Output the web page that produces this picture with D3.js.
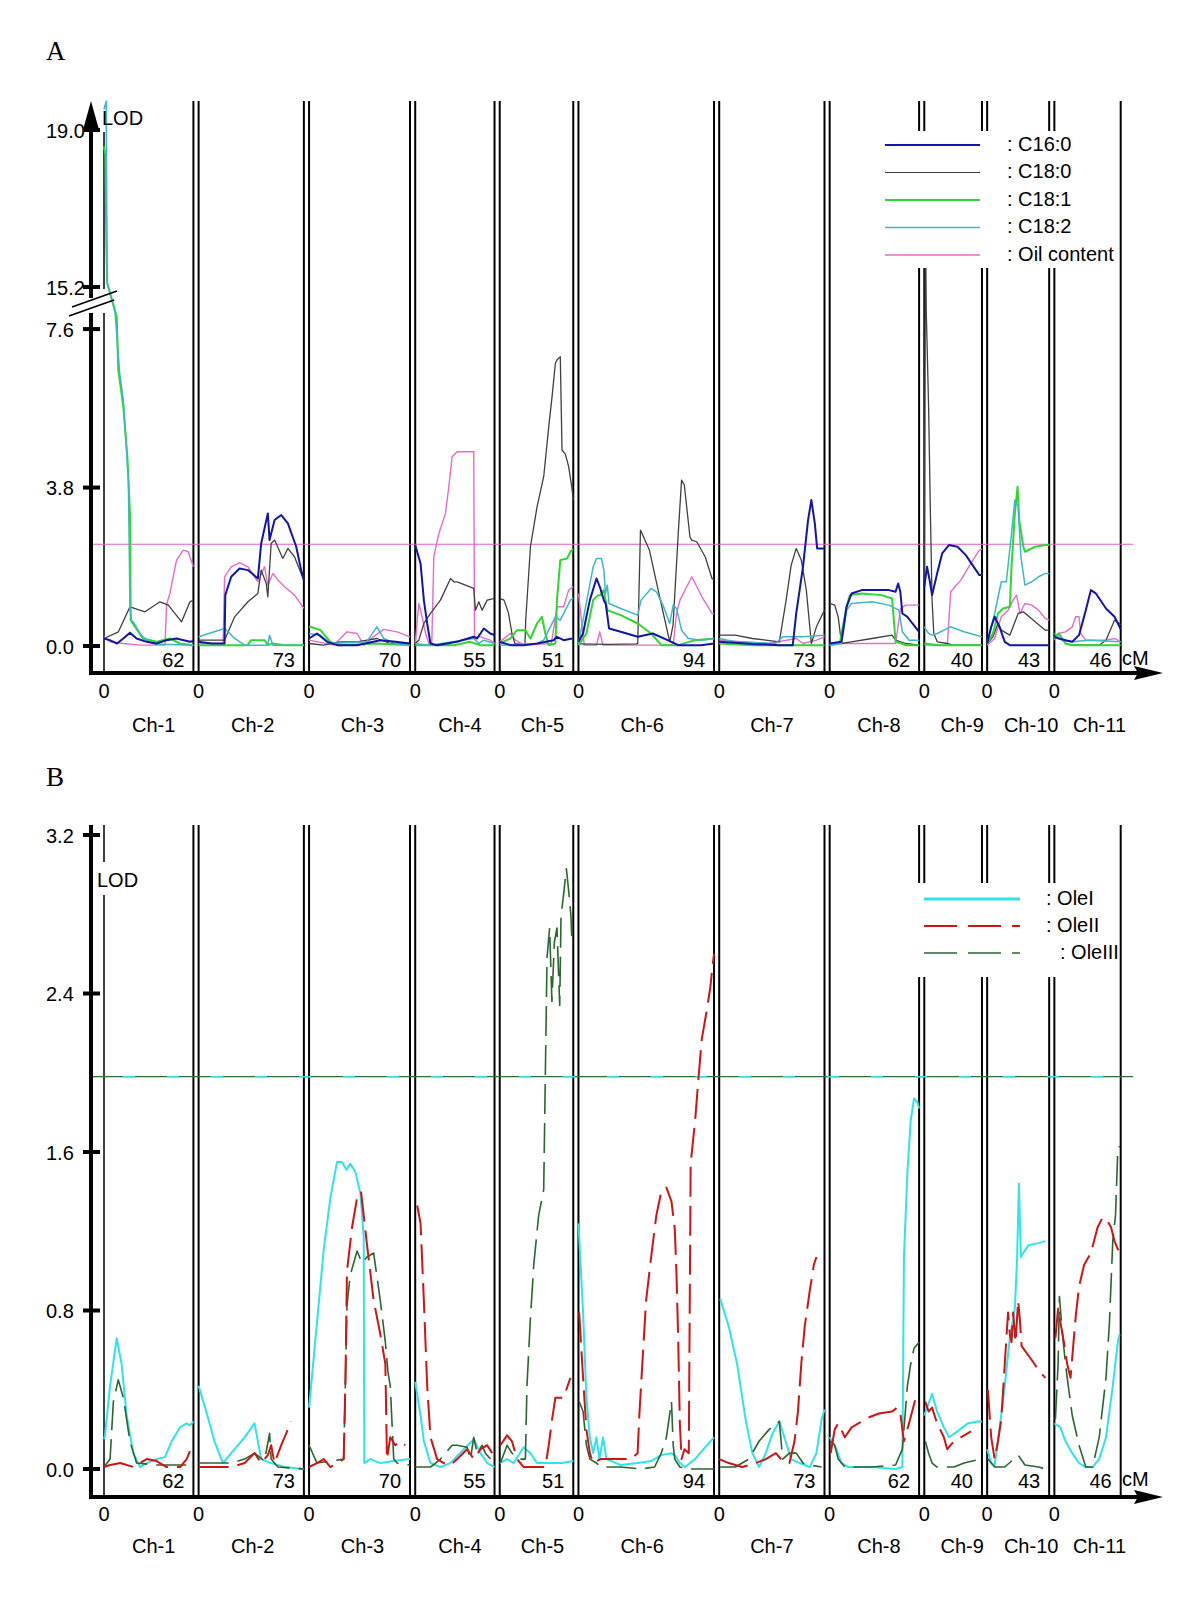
<!DOCTYPE html>
<html><head><meta charset="utf-8">
<script src="https://cdn.jsdelivr.net/npm/d3@7"></script>
<style>body{margin:0;background:#fff} text{font-family:"Liberation Sans",Arial,sans-serif;font-size:20px;fill:#000}</style>
</head><body><svg id="chart" width="1200" height="1605"></svg>
<script>
// ---------------- DATA ----------------
const chrNames = ["Ch-1","Ch-2","Ch-3","Ch-4","Ch-5","Ch-6","Ch-7","Ch-8","Ch-9","Ch-10","Ch-11"];
const chrLengths = [62,73,70,55,51,94,73,62,40,43,46];
const ticksA = [0, 3.8, 7.6, 15.2, 19.0];
const ticksB = [0, 0.8, 1.6, 2.4, 3.2];
const thresholdA = 2.44;
const thresholdB = 1.98;
const legendA = [": C16:0", ": C18:0", ": C18:1", ": C18:2", ": Oil content"];
const legendB = [": OleI", ": OleII", ": OleIII"];

// each series: one list of [cM, LOD] per chromosome
const c16_0 = [
 [[0,0.18],[4,0.14],[9,0.06],[13.4,0.18],[18,0.32],[22.6,0.18],[29.6,0.10],[36.5,0.06],[43.4,0.14],[50.3,0.18],[59.6,0.10],[62,0.12]],
 [[0,0.10],[9,0.06],[18,0.06],[18.5,1.22],[22.6,1.66],[28.4,1.86],[34.2,1.82],[41.1,1.62],[43.4,2.46],[48,3.18],[49.2,2.54],[52.7,3.02],[57.3,3.14],[61.9,2.94],[67.7,2.38],[71.1,1.82],[73,1.58]],
 [[0,0.18],[5.5,0.30],[12.5,0.10],[19.4,0.02],[33.3,0.02],[49.4,0.14],[60,0.10],[70,0.06]],
 [[0,2.42],[3.7,1.98],[6,1.10],[8.3,0.54],[10.6,0.06],[15,0.02],[29,0.10],[40.6,0.22],[42.9,0.18],[47.6,0.42],[52,0.30],[55,0.26]],
 [[0,0.10],[7.4,0.02],[16.6,0.02],[25.9,0.06],[37.4,0.14],[39.7,0.22],[44.3,0.14],[50.1,0.18]],
 [[0,0.10],[3.2,0.30],[5.5,0.70],[7.9,1.10],[12.5,1.62],[14.8,1.42],[17.6,1.10],[19,1.0],[21.2,0.42],[29.3,0.34],[41.1,0.22],[51.6,0.30],[64.5,0.10],[69.2,0.02],[85,0.02],[94,0.06]],
 [[0,0.10],[11,0.08],[23,0.05],[41.7,0.02],[51,0.02],[53.4,0.78],[58.1,1.90],[61.6,3.02],[63.9,3.50],[66.3,2.94],[67.9,2.34],[73,2.34]],
 [[0,0.06],[8.2,0.10],[11.7,0.94],[15.2,1.26],[22.2,1.34],[41,1.34],[45.7,1.30],[47.5,1.50],[49,1.30],[50.4,0.78],[53.9,0.70],[57.4,0.54],[62,0.34]],
 [[0,1.42],[1.9,1.90],[3.7,1.58],[5.4,1.22],[8.9,1.74],[12.4,2.22],[17.1,2.42],[23,2.38],[28.8,2.18],[33.5,1.94],[38.2,1.70],[40,1.70]],
 [[0,0.06],[2.8,0.46],[5.2,0.70],[8.6,0.46],[12.2,0.10],[15.7,0.02],[43,0.02]],
 [[0,0.22],[3,0.18],[7.7,0.14],[12.4,0.10],[17.1,0.26],[21.8,0.86],[25.3,1.34],[28.8,1.26],[35.8,0.90],[41.7,0.70],[45.2,0.46],[46,0.40]]
];
const c18_0 = [
 [[0,0.18],[10,0.34],[18,0.94],[28.4,0.82],[38.8,1.06],[44.6,0.98],[53.8,0.58],[59.6,1.06],[62,1.10]],
 [[0,0.14],[18,0.14],[25,0.70],[34.2,1.06],[41.1,1.26],[43.4,1.82],[46.9,1.50],[48,1.18],[50.3,2.46],[52.7,2.54],[58.4,2.10],[61.9,2.34],[66.5,2.14],[71.1,1.74],[73,1.58]],
 [[0,0.06],[10,0.02],[21.7,0.10],[33.3,0.10],[47,0.18],[56.3,0.06],[70,0.06]],
 [[0,0.06],[2.5,0.14],[6,0.54],[10.6,0.78],[17.5,1.10],[24.5,1.62],[26.8,1.54],[29.1,1.54],[40.6,1.38],[41.8,0.86],[44.1,1.06],[46.4,0.86],[49.9,1.10],[55,1.14]],
 [[0,1.14],[3,1.10],[6,0.80],[8.5,0.30],[10.5,0.06],[17.5,0.02],[18,0.60],[21.3,2.38],[25.9,3.34],[30.5,4.06],[34,5.26],[36.3,5.98],[38.6,6.78],[39.7,6.86],[42,6.94],[43.2,4.70],[45.5,4.60],[47.8,4.30],[50.1,3.78],[51,3.5]],
 [[0,0.05],[20,0.04],[40,0.05],[41.1,0.06],[43,2.78],[49.2,2.30],[56.3,1.18],[63.3,0.10],[65.6,0.50],[69.2,2.70],[71.5,3.98],[73.4,3.86],[77.3,2.62],[78.5,2.54],[82,2.50],[87.9,2.14],[92.6,1.62],[94,1.58]],
 [[0,0.26],[11,0.26],[23,0.18],[41.7,0.10],[46.4,1.10],[49.9,1.94],[53.4,2.34],[56.9,2.06],[60.4,1.34],[63.9,0.06],[67.4,0.46],[73,0.86]],
 [[0,1.02],[3.5,0.98],[5.9,0.70],[8.2,0.06],[15,0.10],[29.3,0.18],[43.3,0.26],[45.7,0.14],[52.7,0.06],[62,0.02]],
 [[0,1.5],[0.8,17.0],[1.4,8.0],[3,5.74],[4.2,3.26],[5.4,1.10],[6.6,0.30],[9,0.10],[16,0.06],[20,0.02],[40,0.02]],
 [[0,0.06],[4,0.22],[7.5,0.54],[9.8,0.38],[15.7,0.26],[21.5,0.78],[25.1,0.82],[33.3,0.58],[40.3,0.38],[43,0.38]],
 [[0,0.22],[3,0.30],[7.7,0.06],[12.4,0.02],[31,0.02],[35.8,0.14],[41.7,0.62],[45.2,0.54],[46,0.5]]
];
const c18_1 = [
 [[0,18.6],[1.0,18.4],[1.6,16.3],[2.2,15.3],[8.8,7.90],[9.9,6.62],[13.4,5.74],[16.2,4.54],[18,3.18],[18.5,0.62],[21.5,0.46],[27,0.18],[36.5,0.10],[45.7,0.18],[52.7,0.06],[62,0.02]],
 [[0,0.02],[34,0.02],[36.5,0.14],[45.7,0.14],[48,0.02],[51.5,0.06],[59.6,0.02],[73,0.02]],
 [[0,0.46],[1,0.46],[7.9,0.38],[14.8,0.10],[21.7,0.02],[47,0.06],[70,0.02]],
 [[0,0.02],[27,0.02],[38,0.10],[45,0.02],[55,0.02]],
 [[0,0.06],[7.4,0.18],[12,0.38],[17.8,0.38],[21.3,0.18],[25.9,0.54],[29.3,0.70],[31.6,0.30],[34,0.02],[38.6,0.06],[39.7,1.10],[42,2.06],[46.7,2.10],[49,2.26],[50.1,2.30],[51,2.32]],
 [[0,0.02],[5.5,0.30],[10.2,1.10],[13.6,1.22],[15.3,1.22],[17.6,1.34],[20,0.86],[29.3,0.74],[41.1,0.54],[50.4,0.30],[57.5,0.02],[69.2,0.02],[80.9,0.14],[94,0.18]],
 [[0,0.06],[23,0.02],[73,0.02]],
 [[0,0.02],[7,0.06],[11.7,0.94],[14,1.22],[22.2,1.26],[36,1.22],[43.3,1.14],[45.7,0.10],[52.7,0.02],[62,0.02]],
 [[0,0.06],[10,0.02],[40,0.02]],
 [[0,0.06],[4,0.30],[7.5,0.78],[11,0.90],[15.7,0.94],[16.9,1.90],[19.2,3.18],[21.1,3.82],[22.2,3.02],[25.1,2.38],[26.2,2.26],[33.3,2.38],[40.3,2.42],[43,2.42]],
 [[0,0.18],[3,0.30],[7.7,0.06],[12.4,0.02],[46,0.02]]
];
const c18_2 = [
 [[0,19.5],[1.5,19.7],[2.2,15.3],[7.6,8.10],[11,6.5],[13.4,5.9],[16.9,3.98],[18,0.94],[19.2,0.58],[20.3,0.58],[25,0.30],[30.7,0.10],[35,0.05],[62,0.02]],
 [[0,0.22],[18,0.42],[25,0.18],[32,0.02],[48,0.02],[49.2,0.26],[51.5,0.02],[73,0.02]],
 [[0,0.30],[7.9,0.26],[14.8,0.06],[40,0.10],[47,0.46],[51.7,0.18],[60,0.06],[70,0.02]],
 [[0,0.06],[10,0.02],[40.6,0.18],[44,0.06],[47.6,0.14],[55,0.06]],
 [[0,0.02],[25.9,0.06],[30.5,0.14],[38.6,0.70],[42,0.62],[49,1.10],[51,1.15]],
 [[0,0.06],[3.2,0.62],[6.7,1.26],[10.2,1.90],[12.5,2.10],[15.9,2.10],[17.6,1.82],[18.8,1.26],[20,1.46],[21.2,1.02],[29.3,0.90],[41.1,0.74],[43.4,1.10],[50.4,1.38],[54,1.30],[58.6,0.98],[63.3,0.54],[65.7,0.98],[68,0.90],[71.5,0.38],[76.2,0.18],[85.6,0.14],[94,0.18]],
 [[0,0.18],[11,0.10],[39,0.06],[44,0.22],[58,0.22],[73,0.26]],
 [[0,0.02],[8.2,0.06],[11.7,0.86],[15.2,1.02],[29.3,1.06],[41,0.98],[48,0.86],[50.4,0.34],[55,0.14],[62,0.14]],
 [[0,0.46],[3,0.30],[5.4,0.26],[8.9,0.30],[18.3,0.46],[27.4,0.34],[40,0.22]],
 [[0,0.06],[5.2,0.78],[9.8,1.54],[13.3,1.54],[16.9,2.70],[19.2,3.50],[21.5,3.34],[23.4,2.14],[26.2,1.46],[30.9,1.54],[35.6,1.66],[40.3,1.74],[43,1.74]],
 [[0,0.30],[5.4,0.14],[12.4,0.10],[24,0.14],[46,0.10]]
];
const oilContent = [
 [[0,0.22],[4,0.10],[13.4,0.06],[25,0.02],[42.3,0.02],[43.4,1.00],[45.7,1.26],[50.3,2.06],[55,2.30],[58.4,2.26],[60.3,2.06],[62,1.9]],
 [[0,0.06],[17,0.06],[18,1.66],[22.6,1.90],[28.4,2.00],[34.2,1.90],[41.1,1.54],[45.7,1.90],[48,1.46],[51.5,1.74],[55,1.58],[59.6,1.42],[66.5,1.22],[73,0.90]],
 [[0,0.14],[17,0.02],[26.3,0.34],[33.3,0.30],[37.9,0.02],[44.6,0.22],[51.7,0.40],[61,0.34],[70,0.22]],
 [[0,0.06],[2.5,1.02],[4.8,0.70],[7.2,0.30],[9.5,0.06],[11.5,0.06],[12.9,2.14],[16.4,2.70],[21,3.18],[23.3,3.82],[25.6,4.54],[29.1,4.66],[40.6,4.66],[41.1,0.22],[45.3,0.22],[52,0.14],[55,0.06]],
 [[0,0.10],[7.4,0.30],[10.9,0.14],[16.6,0.02],[35.8,0.06],[39.7,0.94],[44.3,0.94],[47.8,1.34],[51,1.42]],
 [[0,1.26],[4,0.02],[12.5,0.02],[14.8,0.34],[17,0.02],[63,0.02],[65.8,0.06],[68,0.78],[70.4,1.10],[78.6,1.66],[85.6,1.18],[92.6,0.78],[94,0.78]],
 [[0,0.14],[34,0.06],[53.4,0.18],[58,0.06],[67.4,0.14],[73,0.22]],
 [[0,0.06],[45.7,0.06],[49.2,0.90],[52.7,0.98],[62,0.98]],
 [[0,0.02],[16,0.02],[18.3,1.30],[25.3,1.58],[32.3,1.98],[38.2,2.30],[40,2.32]],
 [[0,0.02],[5.2,0.18],[9.8,0.70],[14.5,0.86],[18,1.10],[20.4,1.22],[22.7,0.78],[26.2,1.02],[30.9,0.98],[35.6,0.86],[40.3,0.66],[43,0.62]],
 [[0,0.14],[3,0.30],[7.7,0.34],[12.4,0.46],[14.8,0.70],[17.1,0.70],[18.3,0.30],[21.8,0.14],[35.8,0.14],[42,0.18],[46,0.10]]
];
const oleI = [
 [[0,0.15],[0.7,0.17],[4.2,0.42],[8.8,0.66],[12.2,0.53],[15.7,0.27],[20.3,0.08],[25,0.01],[29.6,0.03],[36.5,0.05],[42.3,0.06],[46.9,0.14],[52.7,0.21],[57.3,0.23],[59.6,0.22],[62,0.24]],
 [[0,0.42],[5.3,0.29],[11,0.14],[16.9,0.03],[22.6,0.08],[31.9,0.16],[38.8,0.23],[41.1,0.14],[43.4,0.05],[50.3,0.03],[59.6,0.01],[73,0.0]],
 [[0,0.31],[5.5,0.74],[10.2,1.11],[14.8,1.37],[19.4,1.55],[22.9,1.55],[25.9,1.51],[28.6,1.54],[32.1,1.50],[35.6,1.39],[37.9,1.17],[38.3,0.03],[42.5,0.05],[49.4,0.03],[58.7,0.04],[70,0.05]],
 [[0,0.44],[3.7,0.27],[6,0.14],[10.6,0.03],[17.5,0.01],[24.5,0.03],[33.7,0.10],[40.6,0.15],[45.3,0.08],[49.9,0.03],[55,0.01]],
 [[0,0.03],[5.1,0.05],[9.7,0.03],[16.6,0.11],[21.2,0.08],[25.9,0.03],[34,0.03],[43,0.03],[51,0.04]],
 [[0,1.24],[3.2,0.79],[5.5,0.36],[7.9,0.16],[10.2,0.08],[12.5,0.16],[14.5,0.05],[17.1,0.16],[19.4,0.05],[29.3,0.02],[41,0.03],[50.4,0.04],[57.4,0.07],[64.5,0.08],[66.8,0.07],[70.3,0.03],[73.8,0.01],[80.9,0.05],[87.9,0.11],[94,0.16]],
 [[0.7,0.86],[6.6,0.72],[12.4,0.53],[18.3,0.25],[23,0.08],[27.6,0.01],[32.3,0.08],[37,0.18],[41.7,0.24],[45.2,0.16],[49.9,0.05],[55.7,0.03],[62.8,0.01],[67.4,0.08],[71,0.25],[73,0.30]],
 [[0,0.16],[3.5,0.12],[8.2,0.03],[12.9,0.01],[29.3,0.01],[45.7,0.0],[50.4,0.01],[51.5,1.07],[53.9,1.50],[56.2,1.76],[58.5,1.87],[60.9,1.85],[62,1.82]],
 [[0,0.27],[5.4,0.38],[8.9,0.29],[13.6,0.21],[17.1,0.16],[23,0.19],[30,0.23],[37,0.24],[40,0.24]],
 [[0,0.10],[2.8,0.03],[5.2,0.02],[8.7,0.21],[12.2,0.42],[15.7,0.66],[19.2,0.81],[20.8,1.07],[22,1.44],[23.4,1.07],[25.1,1.09],[28.6,1.13],[35.6,1.14],[40.3,1.15]],
 [[0,0.23],[4.2,0.21],[7.7,0.14],[12.4,0.08],[17.1,0.03],[21.8,0.01],[26.5,0.01],[31.1,0.05],[35.8,0.16],[40.5,0.42],[44,0.64],[45.2,0.68]]
];
const oleII = [
 [[0,0.01],[4.2,0.02],[11.3,0.03],[20.3,0.01],[29.6,0.05],[36.5,0.04],[43.4,0.01],[52.7,0.01],[57.3,0.05],[59.6,0.09]],
 [[0,0.01],[22.6,0.01],[31.9,0.03],[38.8,0.08],[43.4,0.03],[48,0.07],[50.3,0.12],[52.6,0.03],[57.3,0.12],[64.2,0.24]],
 [[0,0.01],[5.5,0.03],[10.2,0.05],[14.8,0.01],[24,0.05],[25.2,0.44],[26.3,1.00],[29.8,1.22],[33.3,1.37],[36,1.40],[37.9,1.28],[40.2,1.13],[44.8,0.85],[49.4,0.68],[52.9,0.53],[54,0.05],[56.3,0.16],[59.8,0.12],[63.3,0.14],[66.7,0.12]],
 [[1.4,1.33],[3.7,1.24],[6,0.85],[8.3,0.42],[10.6,0.16],[15.2,0.05],[19.9,0.03],[24.5,0.02],[29.1,0.05],[36,0.10],[40.6,0.05],[45.3,0.10],[49.9,0.12],[53.4,0.08]],
 [[0.5,0.12],[5.1,0.17],[8.5,0.14],[12,0.05],[16.6,0.01],[31.6,0.01],[34,0.12],[36.3,0.25],[38.6,0.36],[44.3,0.36],[49,0.46]],
 [[0.5,0.79],[3.2,0.46],[5.5,0.20],[7.9,0.08],[10.2,0.03],[15.3,0.05],[36.4,0.05],[41,0.08],[42.2,0.27],[44.6,0.57],[46.9,0.85],[50.4,1.07],[54,1.28],[57.4,1.40],[61,1.42],[64.5,1.35],[66.8,1.21],[68,0.98],[69.2,0.64],[70.3,0.23],[71.5,0.05],[73.5,0.10],[76.5,0.08],[77.8,1.54],[80.9,1.76],[83.2,1.97],[85.5,2.17],[89.1,2.32],[91.4,2.43],[93,2.54],[94,2.6]],
 [[0,0.05],[6.6,0.03],[15.9,0.01],[25.3,0.03],[32.3,0.05],[39.3,0.08],[44,0.04],[48.7,0.03],[52.2,0.14],[54.6,0.29],[56.9,0.53],[59.3,0.72],[62.8,0.90],[65.6,1.03],[67.4,1.07]],
 [[0.7,0.08],[3.5,0.20],[5.9,0.23],[10.5,0.16],[15.2,0.21],[19.9,0.23],[26.9,0.26],[34,0.28],[43.3,0.29],[46.8,0.31],[49.2,0.27],[51.5,0.14],[55,0.23],[59.7,0.36],[62,0.38]],
 [[0.7,0.34],[3,0.29],[5.4,0.31],[8.9,0.23],[13.6,0.16],[15.9,0.10],[20.6,0.14],[25.3,0.16],[30,0.18],[32.3,0.19]],
 [[0.5,0.40],[2.8,0.16],[5.2,0.05],[7.5,0.14],[9.8,0.25],[12.2,0.53],[14.5,0.79],[15.7,0.68],[16.9,0.64],[18,0.79],[19.7,0.64],[21.5,0.85],[22.7,0.75],[23.9,0.62],[30.9,0.55],[35.6,0.50],[40.3,0.46]],
 [[0.7,0.66],[2.6,0.81],[4.2,0.74],[6.6,0.64],[8.9,0.53],[11.2,0.46],[14.8,0.77],[17.1,0.92],[20.6,1.03],[25.3,1.09],[30,1.22],[33.5,1.27],[37,1.25],[39.3,1.22],[41.7,1.15],[44,1.11],[45.5,1.10]]
];
const oleIII = [
 [[0,0.01],[4.2,0.05],[6.5,0.34],[9.9,0.45],[13.4,0.36],[18,0.14],[22.6,0.03],[36.5,0.02],[62,0.02]],
 [[0,0.03],[22.6,0.03],[31.9,0.05],[38.8,0.08],[45.7,0.04],[49.2,0.18],[50.3,0.05],[55,0.01],[73,0.0]],
 [[0,0.12],[5.5,0.03],[14.8,0.04],[24,0.05],[25.2,0.44],[26.3,0.83],[28.6,0.98],[33.3,1.10],[36.7,1.04],[40.2,1.07],[44.8,1.09],[49.4,0.85],[52.9,0.64],[54.7,0.49],[56.3,0.42],[58.7,0.05],[61,0.03],[70,0.02]],
 [[0,0.01],[10.6,0.01],[17.5,0.05],[25.6,0.12],[29.1,0.12],[36,0.11],[38.3,0.05],[40.6,0.16],[42.9,0.08],[46.4,0.12],[48.7,0.08],[52.2,0.05]],
 [[0.5,0.03],[5.1,0.12],[8.5,0.08],[13.2,0.05],[17.8,0.05],[18.9,0.42],[21.2,0.75],[23.6,1.03],[27,1.28],[30.5,1.41],[31.6,1.97],[32.8,2.58],[34.6,2.73],[36.2,2.36],[37.9,2.66],[39.7,2.73],[41.6,2.34],[42.5,2.79],[44.3,2.90],[46.2,3.03],[47.8,2.92],[49.4,2.79],[50.1,2.66]],
 [[0.5,0.34],[3.2,0.29],[5.5,0.12],[7.9,0.05],[12.5,0.03],[15.3,0.01],[29.3,0.01],[43.4,0.0],[52.8,0.01],[57.4,0.08],[61,0.16],[64.5,0.34],[65.7,0.12],[66.8,0.05],[70.3,0.01],[76.2,0.0],[94,0.0]],
 [[0.7,0.01],[11.2,0.01],[20.6,0.05],[27.6,0.14],[34.7,0.20],[41.7,0.24],[44,0.05],[48.7,0.08],[53.4,0.08],[58.1,0.03],[62.8,0.02],[71,0.01]],
 [[0.7,0.14],[3.5,0.12],[5.9,0.05],[10.5,0.01],[29.3,0.01],[45.7,0.02],[50.4,0.10],[53.9,0.42],[56.2,0.53],[58.5,0.61],[62,0.64]],
 [[0.7,0.14],[3,0.08],[5.4,0.03],[8.9,0.01],[20.6,0.01],[27.6,0.03],[39.3,0.05]],
 [[0.5,0.05],[5.2,0.01],[12.2,0.01],[21.5,0.07],[26.2,0.02],[35.6,0.01],[40.3,0.0]],
 [[0.7,0.25],[2.6,0.53],[3.5,0.87],[5.4,0.70],[7.7,0.53],[10,0.40],[12.4,0.27],[17.1,0.12],[21.8,0.01],[26.5,0.01],[31.1,0.16],[35.8,0.46],[38.2,0.74],[40.5,1.15],[42.4,1.28],[44,1.61],[45.2,1.63]]
];

// ---------------- LAYOUT ----------------
const svg = d3.select("#chart");
svg.append("rect").attr("width",1200).attr("height",1605).attr("fill","#fff");

const gapCM = 3.6;
const offsets = [];
{ let acc = 0; chrLengths.forEach(L => { offsets.push(acc); acc += L + gapCM; }); }
const totalCM = d3.sum(chrLengths) + gapCM * (chrLengths.length - 1);
const x = d3.scaleLinear().domain([0, totalCM]).range([104, 1120.7]);
const xPos = (c, cm) => x(offsets[c] + cm);
const labelDx = [5,1.5,3,5,6,-4,0,4.6,9,13,12];

const yA = d3.scaleLinear().domain([0, 8.0, 15.2, 19.0]).range([646, 312.4, 287, 130]);
const yB = d3.scaleLinear().domain([0, 3.2]).range([1469, 835]);

function vline(g, xx, y1, y2, w) {
  g.append("line").attr("x1",xx).attr("x2",xx).attr("y1",y1).attr("y2",y2)
   .attr("stroke","#000").attr("stroke-width",w);
}

function drawPanel(o) {
  const g = svg.append("g");
  // chromosome boundary lines
  chrLengths.forEach((L,i) => {
    if (i > 0) vline(g, xPos(i,0), o.lineTop, o.axisY, 2);
    vline(g, xPos(i,L), o.lineTop, o.axisY, 2);
  });
  o.ch1Segs.forEach(s => vline(g, xPos(0,0), s[0], s[1], 1.5));

  // threshold
  o.drawThreshold(g);

  // curves
  o.series.forEach(s => {
    s.data.forEach((pts, c) => {
      const line = d3.line().x(d => xPos(c, d[0])).y(d => o.y(d[1]));
      g.append("path").attr("d", line(pts)).attr("fill","none")
        .attr("stroke", s.color).attr("stroke-width", s.width)
        .attr("stroke-linejoin","round")
        .attr("stroke-dasharray", s.dash || null);
    });
  });

  // legend
  g.append("rect").attr("x",o.legBox[0]).attr("y",o.legBox[1]).attr("width",o.legBox[2]).attr("height",o.legBox[3]).attr("fill","#fff");
  o.legendOrder.forEach((s,i) => {
    const ly = o.legY0 + i*o.legDy;
    g.append("line").attr("x1",o.legX1).attr("x2",o.legX2).attr("y1",ly).attr("y2",ly)
      .attr("stroke",s.color).attr("stroke-width",s.legW).attr("stroke-dasharray",s.legDash||null);
    g.append("text").attr("x",o.legTx[i]).attr("y",ly+o.legTdy).text(o.legLabels[i]);
  });

  // labels under axis
  chrLengths.forEach((L,i) => {
    const xs = xPos(i,0), xe = xPos(i,L);
    g.append("text").attr("x",xs).attr("y",o.axisY+o.zeroDy).attr("text-anchor","middle").text("0");
    g.append("text").attr("x",(xs+xe)/2+labelDx[i]).attr("y",o.axisY+o.chDy).attr("text-anchor","middle").text(chrNames[i]);
    g.append("text").attr("x",xe-9).attr("y",o.axisY+o.lenDy).attr("text-anchor","end").text(String(L));
  });
  g.append("text").attr("x",1122).attr("y",o.axisY+o.lenDy-2).text("cM");
  g.append("text").attr("x",o.lodX).attr("y",o.lodY).text("LOD");

  // x axis
  g.append("line").attr("x1",89).attr("x2",1140).attr("y1",o.axisY).attr("y2",o.axisY)
    .attr("stroke","#000").attr("stroke-width",4);
  g.append("path").attr("d",`M1163,${o.axisY} L1134,${o.axisY-7} L1138,${o.axisY} L1134,${o.axisY+7} Z`).attr("fill","#000");
  // y axis
  o.ySegs.forEach(s => g.append("line").attr("x1",91).attr("x2",91).attr("y1",s[0]).attr("y2",s[1])
    .attr("stroke","#000").attr("stroke-width",4));
  o.ticks.forEach(t => {
    const yy = o.y(t);
    g.append("rect").attr("x",83).attr("y",yy-2).attr("width",17).attr("height",4).attr("fill","#000");
    g.append("text").attr("x",46).attr("y",yy+7.5).text(d3.format(".1f")(t));
  });
  return g;
}

const sA = {
  c16: {data:c16_0, color:"#1414a8", width:2, legW:2.2},
  c180:{data:c18_0, color:"#404040", width:1.3, legW:1.2},
  c181:{data:c18_1, color:"#2ed82e", width:2, legW:2},
  c182:{data:c18_2, color:"#3cb8c4", width:1.5, legW:1.6},
  oil: {data:oilContent, color:"#e66cc8", width:1.4, legW:1.6}
};
const gA = drawPanel({
  y: yA, lineTop: 101, axisY: 673,
  ch1Segs: [[132,289],[313,673]],
  ySegs: [[120,298],[313,675]],
  ticks: ticksA,
  drawThreshold: g => g.append("line").attr("x1",91).attr("x2",1133)
      .attr("y1",yA(thresholdA)).attr("y2",yA(thresholdA)).attr("stroke","#e060c0").attr("stroke-width",1.2),
  series: [sA.oil, sA.c180, sA.c181, sA.c182, sA.c16],
  legendOrder: [sA.c16, sA.c180, sA.c181, sA.c182, sA.oil],
  legLabels: legendA,
  legBox: [858,131,259,137],
  legX1: 885, legX2: 980, legY0: 145, legDy: 27.5, legTdy: 5.5,
  legTx: [1007,1007,1007,1007,1007],
  zeroDy: 25, chDy: 59, lenDy: -6,
  lodX: 102, lodY: 125
});
// y-axis arrow and break marks (panel A)
gA.append("path").attr("d","M91,101 L83.5,128 L98.5,128 Z").attr("fill","#000");
gA.append("line").attr("x1",69).attr("y1",316).attr("x2",114).attr("y2",300).attr("stroke","#000").attr("stroke-width",1.5);
gA.append("line").attr("x1",72).attr("y1",307).attr("x2",117).attr("y2",291).attr("stroke","#000").attr("stroke-width",1.5);

const sB = {
  I:  {data:oleI, color:"#2ee4e8", width:2, legW:3},
  II: {data:oleII, color:"#d01414", width:2, dash:"30,9", legW:2, legDash:"33,11"},
  III:{data:oleIII, color:"#2b6530", width:1.6, dash:"30,9", legW:1.6, legDash:"33,11"}
};
drawPanel({
  y: yB, lineTop: 825, axisY: 1497,
  ch1Segs: [[825,862],[895,1497]],
  ySegs: [[825,1499]],
  ticks: ticksB,
  drawThreshold: g => {
    const ty = yB(thresholdB);
    g.append("line").attr("x1",91).attr("x2",1133).attr("y1",ty).attr("y2",ty).attr("stroke","#336b3a").attr("stroke-width",1.2);
    g.append("line").attr("x1",91).attr("x2",1133).attr("y1",ty).attr("y2",ty).attr("stroke","#30e0e4").attr("stroke-width",1.6)
      .attr("stroke-dasharray","12,32").attr("stroke-dashoffset",12);
  },
  series: [sB.I, sB.III, sB.II],
  legendOrder: [sB.I, sB.II, sB.III],
  legLabels: legendB,
  legBox: [880,883,237,94],
  legX1: 924, legX2: 1020, legY0: 899, legDy: 27, legTdy: 6,
  legTx: [1046,1046,1060],
  zeroDy: 24, chDy: 56, lenDy: -9,
  lodX: 97, lodY: 887
});

svg.append("text").attr("x",46).attr("y",60).style("font-family","'Liberation Serif','Times New Roman',serif").style("font-size","27px").text("A");
svg.append("text").attr("x",46).attr("y",786).style("font-family","'Liberation Serif','Times New Roman',serif").style("font-size","27px").text("B");
</script></body></html>
